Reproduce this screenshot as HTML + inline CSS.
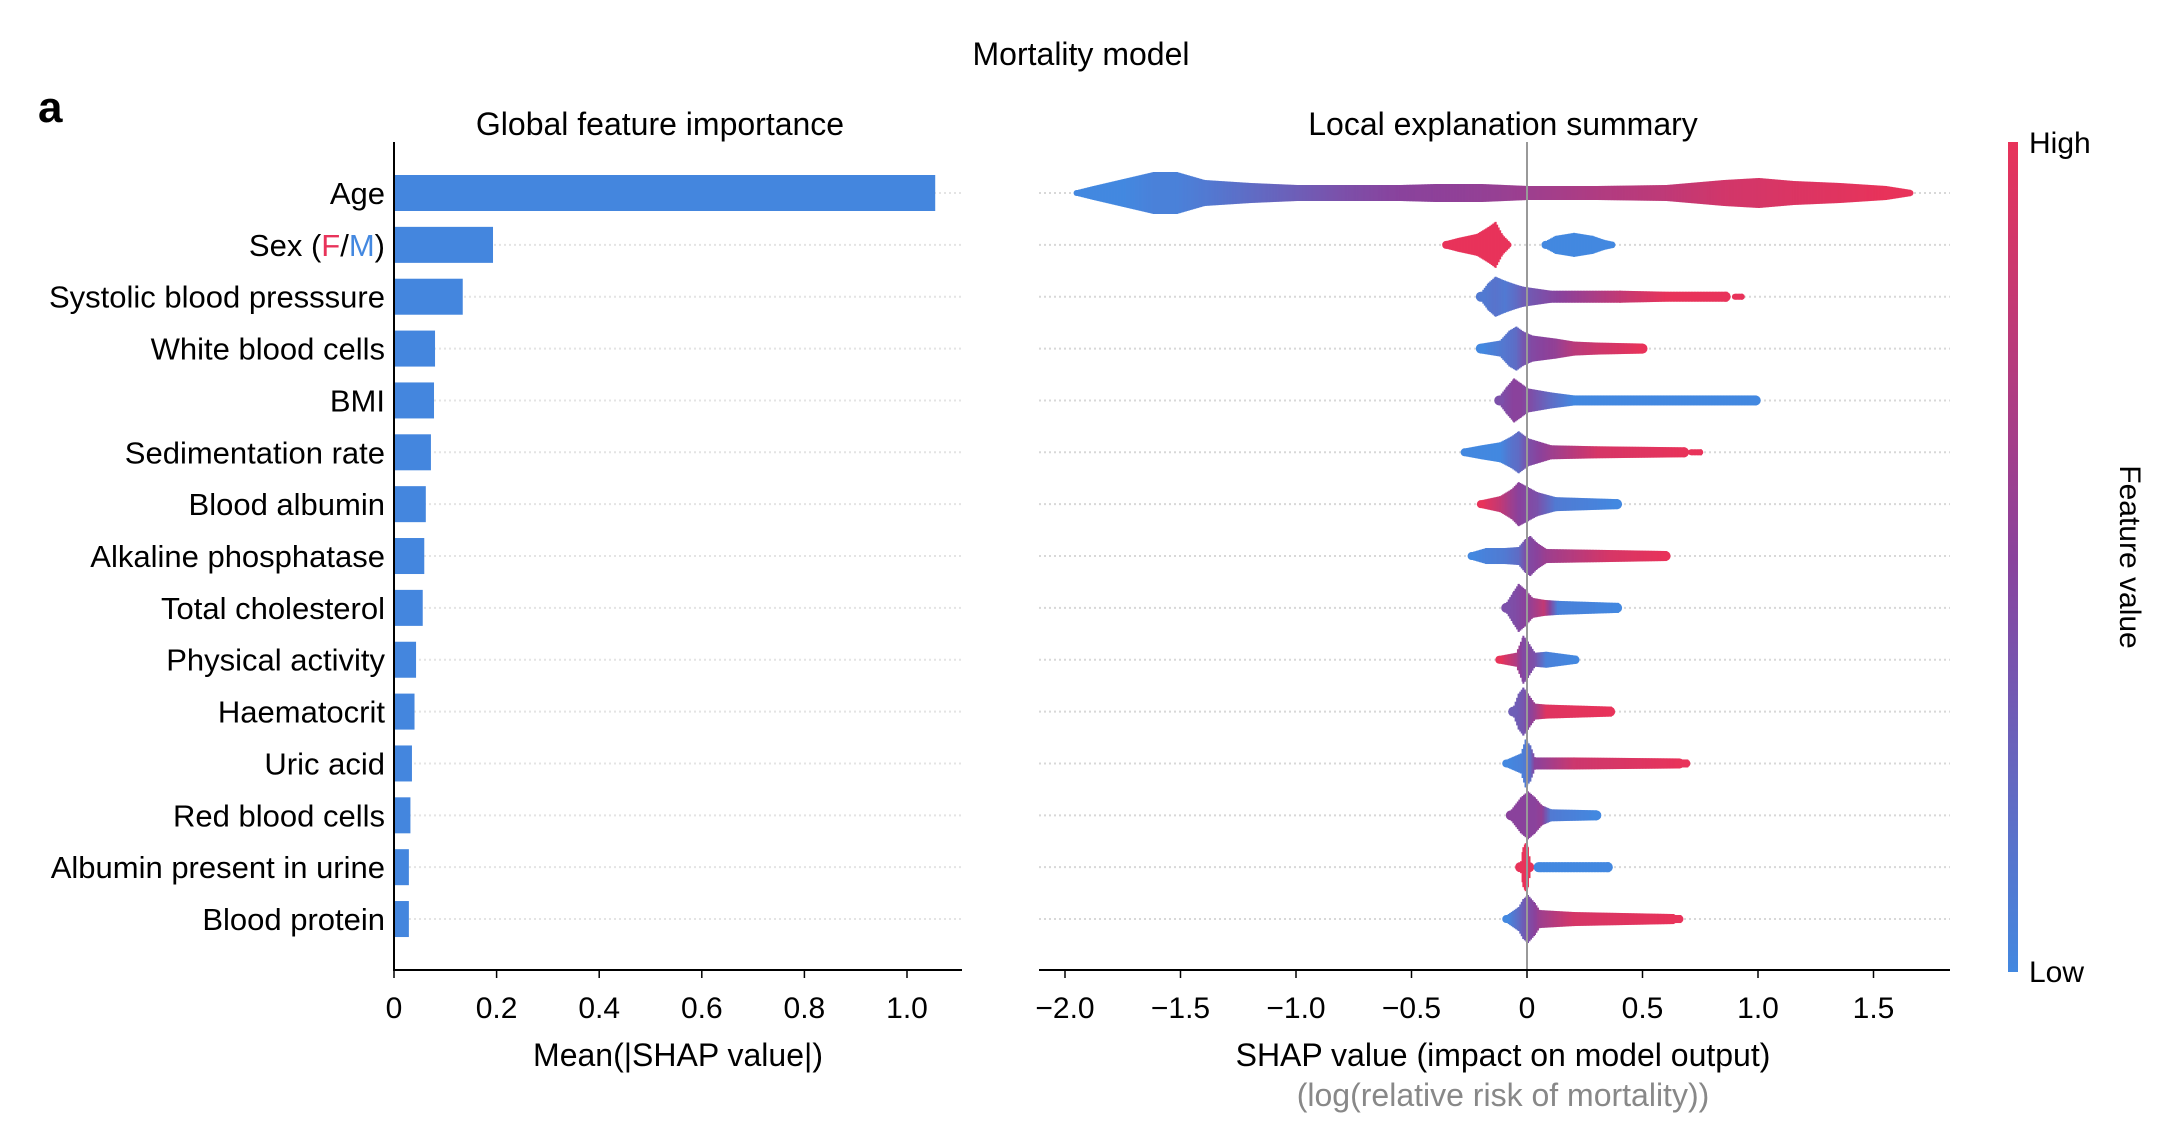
<!DOCTYPE html>
<html><head><meta charset="utf-8">
<style>
html,body{margin:0;padding:0;background:#fff;}
svg{display:block;font-family:"Liberation Sans",Arial,sans-serif;}
</style></head>
<body>
<svg id="chart" width="2158" height="1132" viewBox="0 0 2158 1132" xmlns="http://www.w3.org/2000/svg">
<defs>
<linearGradient id="cbar" x1="0" y1="1" x2="0" y2="0">
<stop offset="0" stop-color="#4388e0"/>
<stop offset="0.5" stop-color="#8a429c"/>
<stop offset="1" stop-color="#e8335a"/>
</linearGradient>
</defs>
<text x="1081" y="65" font-size="32" text-anchor="middle">Mortality model</text>
<text x="38" y="122" font-size="44" font-weight="bold">a</text>
<text x="660" y="135" font-size="32" text-anchor="middle">Global feature importance</text>
<text x="1503" y="135" font-size="32" text-anchor="middle">Local explanation summary</text>
<g id="grid"></g>
<g id="bars"></g>
<g id="labels"></g>
<g id="swarm"></g>
<g id="axes"></g>
<rect x="2008" y="142" width="10" height="830" fill="url(#cbar)"/>
<text x="2029" y="153" font-size="30">High</text>
<text x="2029" y="982" font-size="30">Low</text>
<text transform="translate(2120,557) rotate(90)" font-size="30" text-anchor="middle">Feature value</text>
<text x="678" y="1066" font-size="32" text-anchor="middle">Mean(|SHAP value|)</text>
<text x="1503" y="1066" font-size="32" text-anchor="middle">SHAP value (impact on model output)</text>
<text x="1503" y="1106" font-size="32" text-anchor="middle" fill="#888">(log(relative risk of mortality))</text>
</svg>
<script>
const features = ["Age","Sex (F/M)","Systolic blood presssure","White blood cells","BMI","Sedimentation rate","Blood albumin","Alkaline phosphatase","Total cholesterol","Physical activity","Haematocrit","Uric acid","Red blood cells","Albumin present in urine","Blood protein"];
const importance = [1.055,0.193,0.134,0.080,0.078,0.072,0.062,0.059,0.056,0.043,0.040,0.035,0.032,0.029,0.029];
const leftTicks = [0,0.2,0.4,0.6,0.8,1.0];
const leftTickLabels = ["0","0.2","0.4","0.6","0.8","1.0"];
const rightTicks = [-2,-1.5,-1,-0.5,0,0.5,1,1.5];
const rightTickLabels = ["\u22122.0","\u22121.5","\u22121.0","\u22120.5","0","0.5","1.0","1.5"];
// swarm profiles: per feature, segments of knots [shap, halfHeightPx, colorFrac(0=low,1=high)]
const swarmAge = [[[-1.95,3,0],[-1.88,7,0],[-1.75,14,0],[-1.62,21,0.05],[-1.52,21,0.05],[-1.4,13,0.1],[-1.2,10,0.2],[-1.0,8,0.3],[-0.8,8,0.4],[-0.55,8,0.5],[-0.4,9,0.52],[-0.2,9,0.55],[0,7,0.6],[0.3,7,0.7],[0.6,8,0.78],[0.85,13,0.88],[1.0,15,0.9],[1.15,12,0.93],[1.35,10,0.96],[1.55,7,1],[1.66,3,1]]];
const swarmSex = [[[-0.35,4,1],[-0.3,7,1],[-0.22,11,1],[-0.17,18,1],[-0.14,23,1],[-0.11,10,1],[-0.08,3,1]],[[0.08,4,0],[0.12,9,0],[0.2,12,0],[0.28,9,0],[0.33,5,0],[0.37,3,0]]];
const swarmSBP = [[[-0.2,5,0.1],[-0.17,14,0.12],[-0.14,20,0.15],[-0.1,16,0.1],[-0.05,12,0.2],[-0.02,10,0.3],[0.1,6,0.45],[0.4,6,0.8],[0.6,5,1],[0.86,5,1]],[[0.9,3,1],[0.93,3,1]]];
const swarmWBC = [[[-0.2,5,0],[-0.12,8,0.1],[-0.08,18,0.15],[-0.05,22,0.2],[-0.02,17,0.35],[0.02,13,0.45],[0.12,10,0.55],[0.2,7,0.75],[0.3,6,0.85],[0.5,5,1]]];
const swarmBMI = [[[-0.12,5,0.4],[-0.09,14,0.45],[-0.06,22,0.5],[-0.03,17,0.5],[0,12,0.45],[0.1,8,0.2],[0.2,5,0],[0.99,5,0]]];
const swarmSed = [[[-0.27,4,0],[-0.2,7,0],[-0.12,10,0],[-0.07,16,0.15],[-0.04,21,0.2],[0,14,0.4],[0.1,7,0.6],[0.3,6,0.9],[0.68,5,1]],[[0.71,3,1],[0.75,3,1]]];
const swarmAlb = [[[-0.2,4,1],[-0.12,8,0.8],[-0.07,15,0.6],[-0.04,22,0.5],[0,17,0.45],[0.04,12,0.4],[0.12,7,0.1],[0.39,5,0]]];
const swarmALP = [[[-0.24,4,0],[-0.18,8,0.05],[-0.1,8,0.1],[-0.04,9,0.2],[-0.01,17,0.4],[0.01,20,0.45],[0.04,13,0.5],[0.08,7,0.6],[0.35,6,0.9],[0.6,5,1]]];
const swarmChol = [[[-0.09,6,0.4],[-0.06,17,0.42],[-0.04,24,0.45],[-0.01,18,0.5],[0.02,10,0.6],[0.07,8,0.8],[0.13,7,0.05],[0.39,5,0]]];
const swarmPA = [[[-0.12,4,1],[-0.05,7,0.7],[-0.03,18,0.5],[-0.02,24,0.45],[0,18,0.45],[0.03,7,0.4],[0.08,8,0.05],[0.21,4,0]]];
const swarmHaem = [[[-0.06,6,0.3],[-0.04,18,0.32],[-0.02,24,0.35],[0.0,18,0.45],[0.03,8,0.6],[0.08,7,0.95],[0.36,5,1]]];
const swarmUric = [[[-0.09,4,0],[-0.03,10,0.05],[-0.01,24,0.1],[0.01,18,0.2],[0.03,6,0.5],[0.2,6,0.85],[0.66,5,1]],[[0.67,4,1],[0.69,4,1]]];
const swarmRBC = [[[-0.07,6,0.5],[-0.03,18,0.5],[0,24,0.5],[0.03,18,0.5],[0.06,10,0.55],[0.1,6,0.1],[0.3,5,0]]];
const swarmUrine = [[[-0.03,6,1],[-0.02,20,1],[-0.01,24,1],[0.0,20,1],[0.01,6,1]],[[0.05,5,0],[0.35,5,0]]];
const swarmProtein = [[[-0.09,4,0],[-0.04,12,0.2],[-0.02,20,0.3],[0.0,24,0.4],[0.03,16,0.5],[0.05,9,0.6],[0.2,7,0.9],[0.63,5,1]],[[0.64,4,1],[0.66,4,1]]];
const swarms = [swarmAge,swarmSex,swarmSBP,swarmWBC,swarmBMI,swarmSed,swarmAlb,swarmALP,swarmChol,swarmPA,swarmHaem,swarmUric,swarmRBC,swarmUrine,swarmProtein];

const NS="http://www.w3.org/2000/svg";
const xL = v => 394 + v*513;
const xR = v => 1527 + v*231;
const yRow = i => 193 + i*51.86;
function mk(tag, attrs, parent){const e=document.createElementNS(NS,tag);for(const k in attrs)e.setAttribute(k,attrs[k]);parent.appendChild(e);return e;}
function col(c){const a=[67,136,224],m=[138,66,156],b=[232,51,90];let p,q,t;if(c<0.5){p=a;q=m;t=c/0.5;}else{p=m;q=b;t=(c-0.5)/0.5;}return `rgb(${p.map((v,i)=>Math.round(v+(q[i]-v)*t)).join(',')})`;}
const grid=document.getElementById('grid'),bars=document.getElementById('bars'),labels=document.getElementById('labels'),sw=document.getElementById('swarm'),axes=document.getElementById('axes');
features.forEach((f,i)=>{
  const y=yRow(i);
  const g1=mk('line',{x1:394,x2:962,y1:y,y2:y,stroke:'#e4e4e4','stroke-width':2,'stroke-dasharray':'2 3'},grid);
  
  
  const g2=mk('line',{x1:1039,x2:1950,y1:y,y2:y,stroke:'#d8d8d8','stroke-width':2,'stroke-dasharray':'2 3'},grid);
  
  
  const r=mk('rect',{x:394,y:y-18,width:xL(importance[i])-394,height:36,fill:'#4486de'},bars);
  
  
  const t=mk('text',{x:385,y:y+11,'font-size':31,'text-anchor':'end'},labels);
  
  
  if(f==="Sex (F/M)"){t.innerHTML='Sex (<tspan fill="#e8335a">F</tspan>/<tspan fill="#4388e0">M</tspan>)';}else t.textContent=f;
  const grp=mk('g',{},sw);
  
  
  swarms[i].forEach(seg=>{
    for(let k=0;k<seg.length-1;k++){
      const a=seg[k],b=seg[k+1];const x0=xR(a[0]),x1=xR(b[0]);
      for(let x=x0;x<=x1;x+=1.5){const t2=(x1>x0)?(x-x0)/(x1-x0):0;const h=a[1]+(b[1]-a[1])*t2;const c=a[2]+(b[2]-a[2])*t2;
        mk('rect',{x:x,y:y-h,width:2,height:2*h,fill:col(c)},grp);}
    }
    const s=seg[0],e=seg[seg.length-1];
    mk('circle',{cx:xR(s[0]),cy:y,r:Math.min(s[1],5),fill:col(s[2])},grp);
    mk('circle',{cx:xR(e[0]),cy:y,r:Math.min(e[1],5),fill:col(e[2])},grp);
  });
});
const zl=mk('line',{x1:xR(0),x2:xR(0),y1:142,y2:970,stroke:'#999','stroke-width':2},axes);


const la=mk('path',{d:'M394 142 V970 H962',fill:'none',stroke:'#000','stroke-width':2},axes);


const ra=mk('line',{x1:1039,x2:1950,y1:970,y2:970,stroke:'#000','stroke-width':2},axes);


leftTicks.forEach((v,i)=>{
  mk('line',{x1:xL(v),x2:xL(v),y1:970,y2:978,stroke:'#000','stroke-width':1.5},axes);
  const t=mk('text',{x:xL(v),y:1018,'font-size':30,'text-anchor':'middle'},axes);
  
  
  t.textContent=leftTickLabels[i];
});
rightTicks.forEach((v,i)=>{
  mk('line',{x1:xR(v),x2:xR(v),y1:970,y2:978,stroke:'#000','stroke-width':1.5},axes);
  const t=mk('text',{x:xR(v),y:1018,'font-size':30,'text-anchor':'middle'},axes);
  
  
  t.textContent=rightTickLabels[i];
});
</script>
</body></html>
